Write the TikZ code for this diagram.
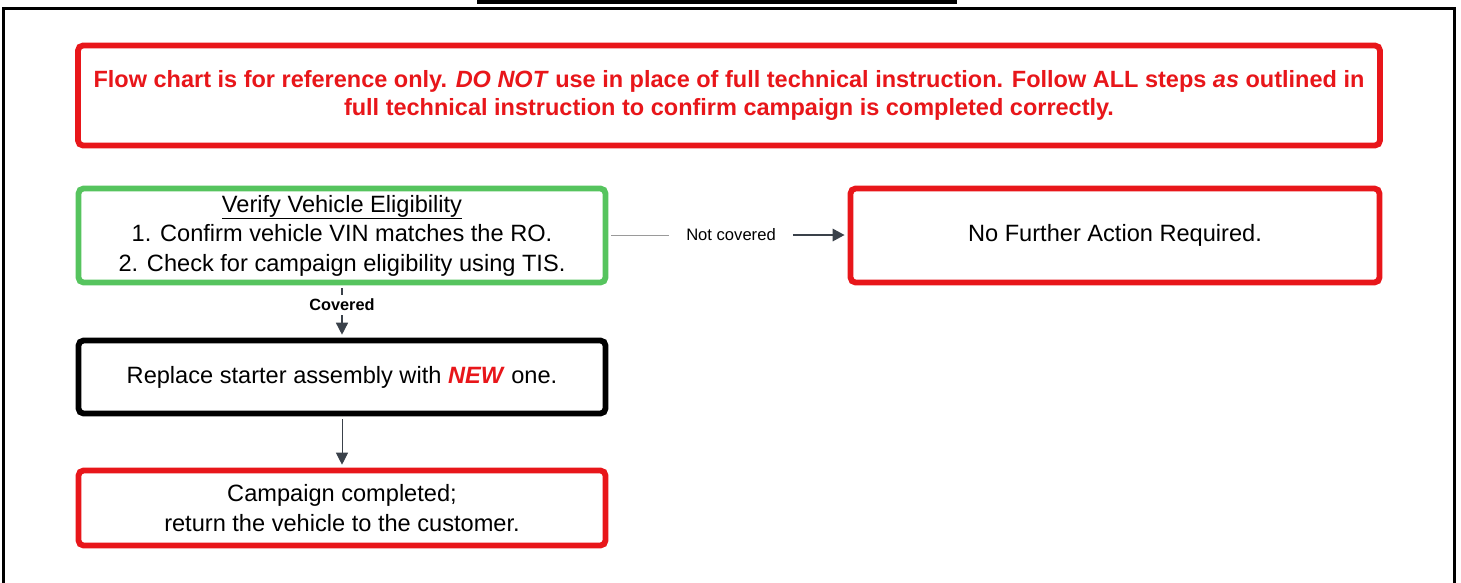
\documentclass[tikz,border=0pt]{standalone}
\usepackage{fontspec}
\setmainfont{Liberation Sans}
\usetikzlibrary{arrows.meta}
\definecolor{fcred}{HTML}{E8161A}
\definecolor{fcgreen}{HTML}{56C45E}
\definecolor{fcdark}{HTML}{3A414A}
\definecolor{fcgray}{HTML}{9A9A9A}
\tikzset{
  box/.style={draw, line width=5.8pt, rounded corners=5pt, fill=white, align=center, inner sep=0pt, font=\fontsize{23.6}{29.5}\selectfont},
  redbox/.style={box, draw=fcred},
  greenbox/.style={box, draw=fcgreen},
  blackbox/.style={box, draw=black},
  lbl/.style={inner ysep=2pt, inner xsep=17pt, font=\fontsize{16.6}{18}\selectfont},
  arr/.style={draw=fcdark, -{Triangle[length=12pt,width=12pt]}},
}
\begin{document}
\begin{tikzpicture}[x=1pt,y=-1pt]
\useasboundingbox (0,0) rectangle (1461,582);
% cut-off underline at top
\fill (477,0) rectangle (957,3.5);
% outer frame
\draw[line width=2.5pt] (3.5,590) -- (3.5,8.5) -- (1454.5,8.5) -- (1454.5,590);
% boxes
\node[redbox, minimum width=1302pt, minimum height=100pt, text=fcred, font=\bfseries\fontsize{23.5}{28.5}\selectfont] (note) at (729,95.5)
 {Flow chart is for reference only. \textit{DO NOT} use in place of full technical instruction. Follow ALL steps \textit{as} outlined in\\ full technical instruction to confirm campaign is completed correctly.};
\node[greenbox, minimum width=527pt, minimum height=94pt] (verify) at (342,235.5)
 {\underline{Verify Vehicle Eligibility}\\ 1. Confirm vehicle VIN matches the RO.\\ 2. Check for campaign eligibility using TIS.};
\node[redbox, minimum width=529pt, minimum height=94pt] (nofurther) at (1115,235.5)
 {No Further Action Required.};
\node[blackbox, minimum width=527pt, minimum height=73pt] (replace) at (342,377)
 {Replace starter assembly with \textcolor{fcred}{\textbf{\textit{NEW}}} one.};
\node[redbox, minimum width=527pt, minimum height=75pt] (done) at (342,508)
 {Campaign completed;\\ return the vehicle to the customer.};
% connectors
\node[lbl] (nc) at (731,235) {Not covered};
\draw[fcgray, line width=1pt] (verify.east |- nc) ++(2.9,0) -- (nc.west);
\draw[arr, line width=2.8pt] (nc.east) -- ([xshift=-2.9pt]nofurther.west |- nc);
\node[lbl, inner xsep=1pt, inner ysep=4pt, font=\bfseries\fontsize{16.3}{18}\selectfont] (cov) at (342,305) {Covered};
\draw[fcdark, line width=1.5pt] ([yshift=-2.9pt]verify.south) -- (cov.north);
\draw[arr, line width=1.5pt] (cov.south) -- ([yshift=2.9pt]replace.north);
\draw[arr, line width=1pt] ([yshift=-2.9pt]replace.south) -- ([yshift=2.9pt]done.north);
\end{tikzpicture}
\end{document}
